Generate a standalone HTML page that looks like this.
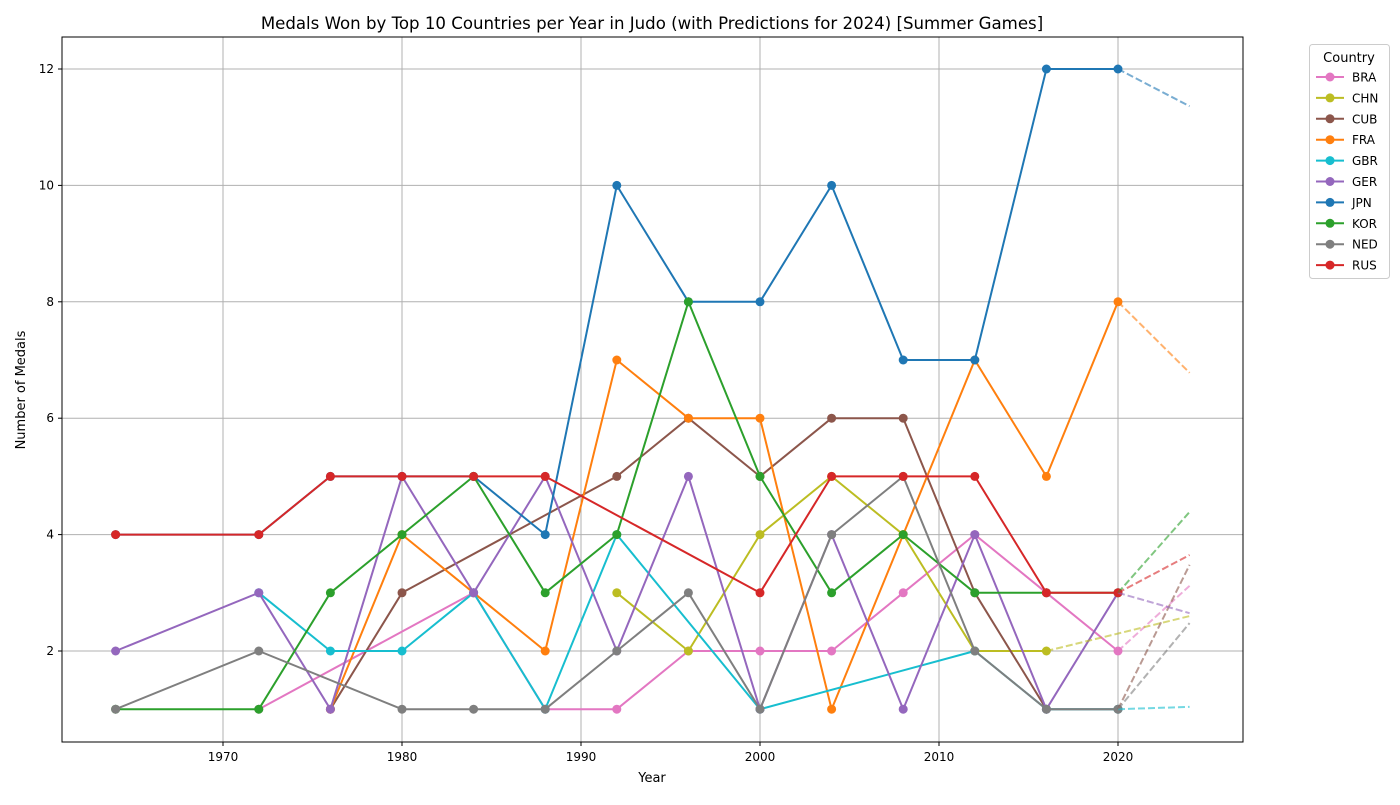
<!DOCTYPE html>
<html><head><meta charset="utf-8"><style>
body{margin:0;background:#fff;font-family:"Liberation Sans","DejaVu Sans",sans-serif;}
svg text{font-family:"DejaVu Sans","Liberation Sans",sans-serif;}
</style></head><body>
<svg id="chart" width="1400" height="800" xmlns="http://www.w3.org/2000/svg">
<rect width="1400" height="800" fill="#fff"/>
<text x="652" y="29" text-anchor="middle" font-size="16.6">Medals Won by Top 10 Countries per Year in Judo (with Predictions for 2024) [Summer Games]</text>
<g id="grid"></g>
<g id="series"></g>
<rect x="62" y="37" width="1181" height="705" fill="none" stroke="#000" stroke-width="1"/>
<g id="axes"></g>
<text x="652" y="782" text-anchor="middle" font-size="13">Year</text>
<text transform="translate(25,390) rotate(-90)" text-anchor="middle" font-size="13">Number of Medals</text>
<g id="legend"></g>
</svg>
<script>
const countries=["BRA","CHN","CUB","FRA","GBR","GER","JPN","KOR","NED","RUS"];
const colors=["#e377c2","#bcbd22","#8c564b","#ff7f0e","#17becf","#9467bd","#1f77b4","#2ca02c","#7f7f7f","#d62728"];
const yearsBRA=[1972,1984,1988,1992,1996,2000,2004,2008,2012,2016,2020];
const valsBRA=[1,3,1,1,2,2,2,3,4,3,2];
const yearsCHN=[1992,1996,2000,2004,2008,2012,2016];
const valsCHN=[3,2,4,5,4,2,2];
const yearsCUB=[1976,1980,1992,1996,2000,2004,2008,2012,2016,2020];
const valsCUB=[1,3,5,6,5,6,6,3,1,1];
const yearsFRA=[1976,1980,1984,1988,1992,1996,2000,2004,2008,2012,2016,2020];
const valsFRA=[1,4,3,2,7,6,6,1,4,7,5,8];
const yearsGBR=[1972,1976,1980,1984,1988,1992,2000,2012,2016,2020];
const valsGBR=[3,2,2,3,1,4,1,2,1,1];
const yearsGER=[1964,1972,1976,1980,1984,1988,1992,1996,2000,2004,2008,2012,2016,2020];
const valsGER=[2,3,1,5,3,5,2,5,1,4,1,4,1,3];
const yearsJPN=[1964,1972,1976,1980,1984,1988,1992,1996,2000,2004,2008,2012,2016,2020];
const valsJPN=[4,4,5,5,5,4,10,8,8,10,7,7,12,12];
const yearsKOR=[1964,1972,1976,1980,1984,1988,1992,1996,2000,2004,2008,2012,2016,2020];
const valsKOR=[1,1,3,4,5,3,4,8,5,3,4,3,3,3];
const yearsNED=[1964,1972,1980,1984,1988,1992,1996,2000,2004,2008,2012,2016,2020];
const valsNED=[1,2,1,1,1,2,3,1,4,5,2,1,1];
const yearsRUS=[1964,1972,1976,1980,1984,1988,2000,2004,2008,2012,2016,2020];
const valsRUS=[4,4,5,5,5,5,3,5,5,5,3,3];
const pred2024=[3.12,2.6,3.48,6.78,1.04,2.65,11.36,4.39,2.48,3.65];
const xTicks=[1970,1980,1990,2000,2010,2020];
const yTicks=[2,4,6,8,10,12];
const allYears=[yearsBRA,yearsCHN,yearsCUB,yearsFRA,yearsGBR,yearsGER,yearsJPN,yearsKOR,yearsNED,yearsRUS];
const allVals=[valsBRA,valsCHN,valsCUB,valsFRA,valsGBR,valsGER,valsJPN,valsKOR,valsNED,valsRUS];
const X=y=>223+(y-1970)*17.9;
const Y=v=>767.4-v*58.2;
const NS="http://www.w3.org/2000/svg";
function mk(tag,attrs,parent){const e=document.createElementNS(NS,tag);for(const k in attrs)e.setAttribute(k,attrs[k]);parent.appendChild(e);return e;}
const grid=document.getElementById('grid'),axes=document.getElementById('axes'),ser=document.getElementById('series'),leg=document.getElementById('legend');
xTicks.forEach(t=>{
 const l=mk('line',{x1:X(t),x2:X(t),y1:37,y2:742,stroke:'#b0b0b0','stroke-width':1},grid);
 
 
 const tk=mk('line',{x1:X(t),x2:X(t),y1:742,y2:746,stroke:'#000'},axes);
 
 
 const tx=mk('text',{x:X(t),y:761,'text-anchor':'middle','font-size':12},axes);tx.textContent=t;
 
 
});
yTicks.forEach(t=>{
 const l=mk('line',{x1:62,x2:1243,y1:Y(t),y2:Y(t),stroke:'#b0b0b0','stroke-width':1},grid);
 
 
 const tk=mk('line',{x1:58,x2:62,y1:Y(t),y2:Y(t),stroke:'#000'},axes);
 
 
 const tx=mk('text',{x:54,y:Y(t)+4,'text-anchor':'end','font-size':12},axes);tx.textContent=t;
 
 
});
countries.forEach((c,i)=>{
 const g=mk('g',{},ser);
 
 
 const ys=allYears[i],vs=allVals[i];
 const pts=ys.map((y,j)=>X(y)+','+Y(vs[j])).join(' ');
 const pl=mk('polyline',{points:pts,fill:'none',stroke:colors[i],'stroke-width':2,'stroke-linejoin':'round'},g);
 
 
 ys.forEach((y,j)=>{
  const p=mk('circle',{cx:X(y),cy:Y(vs[j]),r:4.5,fill:colors[i]},g);
  
  
 });
});
countries.forEach((c,i)=>{
 const ys=allYears[i],vs=allVals[i],n=ys.length-1;
 const d=mk('line',{x1:X(ys[n]),y1:Y(vs[n]),x2:X(2024),y2:Y(pred2024[i]),stroke:colors[i],'stroke-width':2,'stroke-dasharray':'7,3','stroke-opacity':0.6},ser);
 
 
});
const lb=mk('rect',{x:1309.5,y:44.5,width:80,height:234,rx:3,fill:'#fff',stroke:'#ccc'},leg);


const lt=mk('text',{x:1349,y:62,'text-anchor':'middle','font-size':13},leg);lt.textContent='Country';


countries.forEach((c,i)=>{
 const y=77+i*20.9;
 const g=mk('g',{},leg);
 
 
 mk('line',{x1:1316,x2:1344,y1:y,y2:y,stroke:colors[i],'stroke-width':2},g);
 mk('circle',{cx:1330,cy:y,r:4.5,fill:colors[i]},g);
 const t=mk('text',{x:1352,y:y+4.5,'font-size':12},g);t.textContent=c;
});
</script>
</body></html>
